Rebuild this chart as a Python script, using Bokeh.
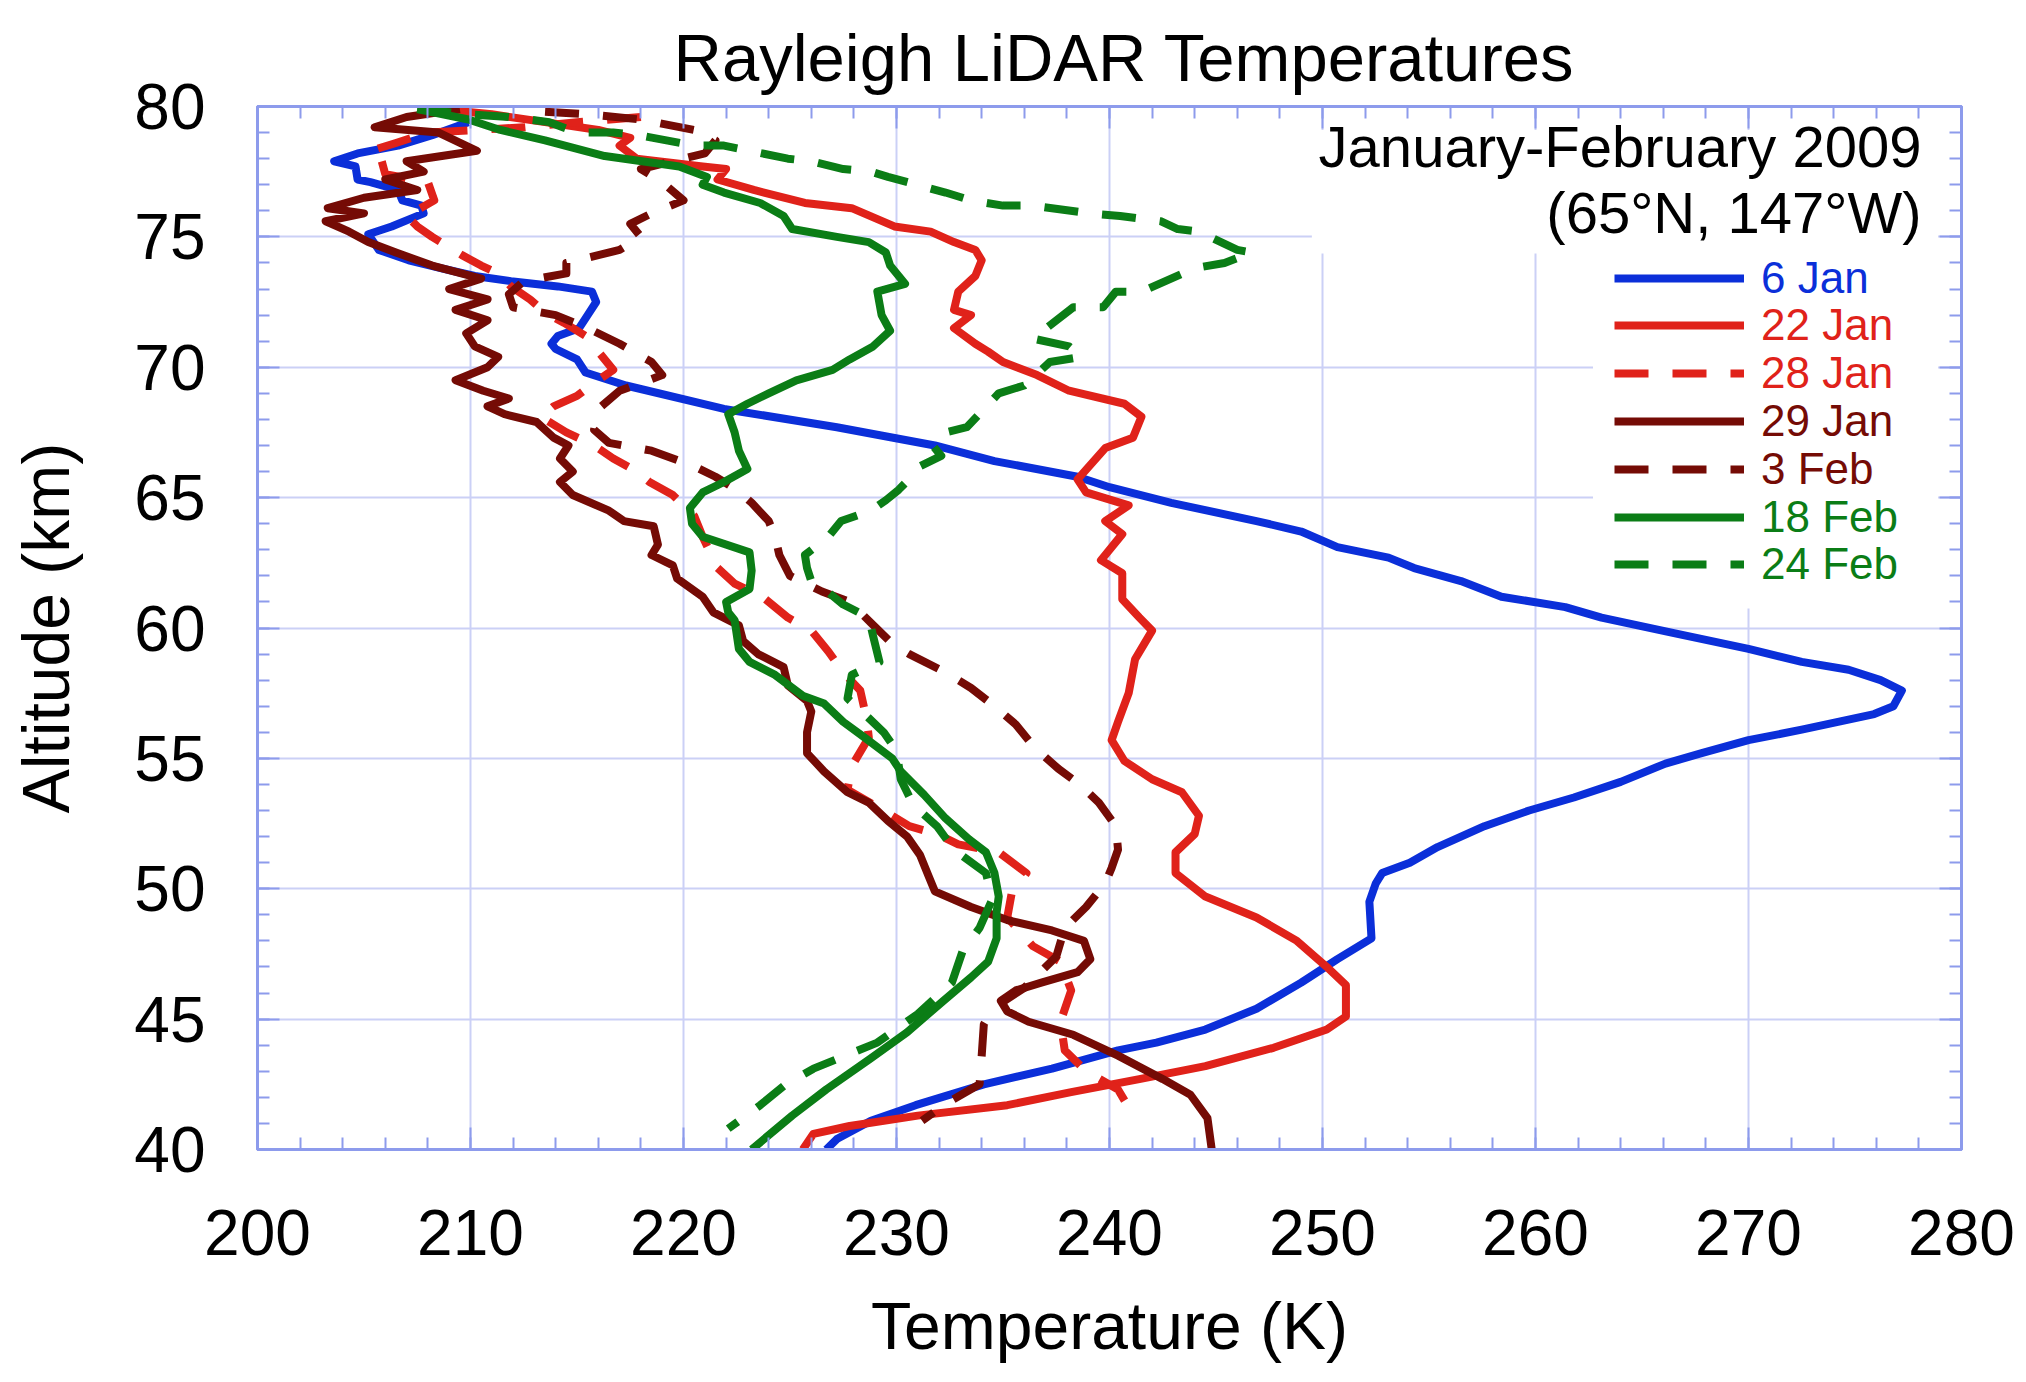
from bokeh.plotting import figure
from bokeh.models import (Range1d, LinearAxis, SingleIntervalTicker, Legend, LegendItem,
                          Label, BoxAnnotation, Grid)
from bokeh.embed import file_html
from bokeh.resources import INLINE

FONT = "Liberation Sans"

# ---------------- data (temperature K, altitude km) ----------------
jan06_alt = [79.4, 78.9, 78.5, 78.2, 77.9, 77.7, 77.2, 77.1, 76.8, 76.4,
             76.2, 75.9, 75.7, 75.4, 75.1, 74.5, 74.1, 73.8, 73.5, 73.3,
             73.1, 72.9, 72.5, 72.0, 71.5, 71.2, 70.9, 70.7, 70.3, 69.8,
             69.3, 68.4, 67.7, 67.0, 66.4, 65.8, 65.4, 64.8, 64.1, 63.7,
             63.1, 62.7, 62.3, 61.8, 61.2, 60.8, 60.4, 59.8, 59.2, 58.7,
             58.4, 58.0, 57.6, 57.0, 56.7, 56.1, 55.7, 55.2, 54.8, 54.1,
             53.5, 53.0, 52.4, 51.6, 51.0, 50.6, 50.2, 49.5, 48.1, 47.3,
             46.4, 45.4, 44.6, 44.1, 43.8, 43.1, 42.5, 41.7, 41.1, 40.4,
             40.0]
jan06_T = [209.9, 208.2, 206.6, 204.7, 203.6, 204.6, 204.7, 205.3, 206.6, 206.8,
           207.7, 207.8, 207.2, 206.3, 205.2, 205.7, 207.1, 208.6, 210.2, 211.9,
           214.1, 215.7, 215.9, 215.5, 215.1, 214.1, 213.8, 214.0, 215.0, 215.4,
           217.3, 221.9, 227.2, 231.8, 234.6, 238.5, 240.0, 242.9, 246.9, 249.0,
           250.7, 253.1, 254.3, 256.5, 258.4, 261.4, 263.1, 266.5, 270.0, 272.5,
           274.7, 276.2, 277.2, 276.8, 275.9, 272.5, 270.0, 267.8, 266.1, 264.0,
           261.8, 259.7, 257.6, 255.4, 254.1, 252.8, 252.5, 252.2, 252.3, 250.7,
           249.0, 246.9, 244.5, 242.2, 240.4, 237.3, 234.1, 230.9, 228.8, 227.2,
           226.7]

jan22_alt = [79.9, 79.7, 79.4, 79.1, 78.8, 78.5, 78.0, 77.7, 77.6, 77.2,
             76.8, 76.3, 76.1, 75.4, 75.2, 74.8, 74.5, 74.1, 73.5, 72.9,
             72.2, 72.0, 71.5, 70.9, 70.6, 70.2, 69.7, 69.1, 68.6, 68.1,
             67.3, 66.9, 65.7, 65.2, 64.7, 64.1, 63.6, 62.6, 62.1, 61.1,
             60.4, 59.9, 58.8, 57.5, 56.4, 55.7, 54.9, 54.2, 53.7, 52.8,
             52.1, 51.4, 50.6, 49.7, 48.9, 48.0, 47.0, 46.3, 45.1, 44.6,
             43.9, 43.2, 42.7, 42.2, 41.7, 41.3, 40.9, 40.6, 40.0]
jan22_T = [208.5, 211.0, 213.5, 216.0, 217.5, 217.0, 217.8, 220.9, 222.0, 221.6,
           223.3, 225.7, 227.9, 229.9, 231.6, 232.7, 233.7, 234.0, 233.7, 232.9,
           232.7, 233.5, 232.7, 233.7, 234.3, 235.0, 236.6, 238.1, 240.7, 241.5,
           241.1, 239.8, 238.5, 238.9, 240.9, 239.8, 240.6, 239.6, 240.6, 240.6,
           241.4, 242.0, 241.2, 240.9, 240.4, 240.1, 240.7, 242.0, 243.4, 244.2,
           244.0, 243.1, 243.1, 244.5, 246.9, 248.8, 250.2, 251.1, 251.1, 250.2,
           247.7, 244.5, 241.4, 238.2, 235.2, 231.0, 227.8, 226.1, 225.6]

jan28_alt = [79.6, 79.4, 79.2, 79.0, 78.6, 78.3, 78.0, 77.4, 77.1, 76.4,
             75.8, 75.4, 75.0, 74.6, 74.3, 73.9, 73.6, 73.1, 72.6, 72.1,
             71.7, 71.2, 70.6, 69.9, 69.4, 68.9, 68.5, 68.1, 67.5, 67.0,
             66.5, 66.0, 65.6, 65.1, 64.3, 63.5, 62.3, 61.7, 61.2, 60.4,
             59.9, 59.1, 58.3, 57.6, 56.5, 55.8, 54.7, 53.8, 53.0, 52.4,
             52.1, 51.7, 51.4, 50.6, 49.8, 48.9, 47.8, 47.2, 46.1, 44.9,
             43.8, 43.0, 42.3, 41.2]
jan28_T = [218.0, 215.0, 212.5, 208.0, 206.5, 205.3, 205.8, 206.0, 208.0, 208.3,
           207.0, 207.5, 208.2, 209.0, 209.6, 210.5, 211.3, 211.9, 212.8, 213.5,
           214.4, 215.4, 216.0, 216.7, 215.8, 215.0, 213.9, 213.3, 214.5, 215.8,
           216.7, 217.8, 218.4, 219.5, 220.5, 220.9, 221.6, 222.4, 223.7, 224.9,
           226.0, 226.8, 227.5, 228.3, 228.6, 228.7, 227.9, 227.7, 229.4, 230.6,
           231.9, 232.9, 234.8, 236.1, 235.4, 235.2, 236.4, 237.7, 238.2, 237.7,
           237.9, 238.9, 240.4, 241.2]

jan29_alt = [79.9, 79.6, 79.2, 79.0, 78.3, 77.9, 77.5, 77.2, 76.8, 76.5,
             76.1, 75.9, 75.6, 75.2, 74.8, 74.4, 73.9, 73.4, 73.0, 72.6,
             72.2, 71.8, 71.3, 70.8, 70.4, 70.0, 69.5, 69.1, 68.8, 68.5,
             68.2, 67.9, 67.3, 67.0, 66.5, 66.0, 65.6, 65.1, 64.5, 64.1,
             63.9, 63.2, 62.8, 62.4, 61.9, 61.2, 60.6, 60.1, 59.5, 59.0,
             58.5, 57.8, 57.2, 56.8, 56.0, 55.2, 54.5, 53.7, 53.3, 52.6,
             52.0, 51.3, 50.5, 49.9, 49.3, 48.8, 48.4, 48.0, 47.3, 46.8,
             46.4, 46.1, 45.7, 45.3, 44.9, 44.4, 43.6, 42.7, 42.1, 41.2,
             40.0]
jan29_T = [209.5, 207.0, 205.5, 208.5, 210.3, 207.0, 207.8, 206.0, 207.5, 205.0,
           203.3, 205.0, 203.2, 204.3, 205.2, 206.5, 208.2, 210.5, 209.0, 210.8,
           209.3, 210.8, 209.8, 210.2, 211.3, 210.8, 209.3, 210.6, 211.8, 210.8,
           211.6, 213.1, 213.9, 214.6, 214.2, 214.8, 214.2, 214.8, 216.5, 217.2,
           218.6, 218.8, 218.5, 219.5, 219.7, 220.9, 221.4, 222.6, 222.8, 223.5,
           224.7, 224.9, 225.8, 226.0, 225.8, 225.8, 226.6, 227.7, 228.7, 229.6,
           230.5, 231.1, 231.5, 231.8, 233.5, 235.2, 237.3, 238.8, 239.1, 238.5,
           236.8, 235.6, 234.9, 235.2, 236.2, 238.3, 240.4, 242.5, 243.8, 244.6,
           244.8]

feb03_alt = [79.8, 79.7, 79.5, 79.1, 78.7, 78.2, 77.9, 77.6, 77.1, 76.4,
             75.9, 75.5, 75.0, 74.5, 74.3, 74.0, 73.6, 73.3, 72.8, 72.3,
             72.0, 71.5, 70.9, 70.2, 69.7, 69.1, 68.4, 67.6, 67.1, 66.8,
             66.2, 65.8, 65.3, 64.8, 64.1, 63.5, 62.8, 62.0, 61.4, 61.0,
             60.2, 59.4, 59.0, 58.3, 57.7, 57.0, 56.3, 55.4, 54.6, 54.0,
             53.3, 52.4, 51.5, 50.8, 50.2, 49.3, 48.5, 47.4, 46.2, 45.4,
             44.8, 43.6, 42.5, 41.8, 41.1]
feb03_T = [213.5, 215.5, 218.0, 220.5, 221.5, 221.0, 219.5, 218.0, 219.0, 220.0,
           218.5, 217.5, 218.0, 217.0, 216.0, 214.5, 214.5, 212.5, 211.8, 212.0,
           214.0, 215.5, 217.0, 218.5, 219.0, 217.0, 216.0, 215.8, 216.5, 218.5,
           220.5, 221.5, 222.5, 223.2, 224.0, 224.3, 224.5, 225.0, 226.5, 227.8,
           228.8, 229.8, 230.6, 232.3, 233.5, 234.6, 235.6, 236.5, 237.6, 238.6,
           239.5, 240.3, 240.4, 240.1, 239.8, 238.9, 237.9, 237.5, 236.0, 234.5,
           234.1, 234.0, 233.9, 232.4, 231.2]

feb18_alt = [79.9, 79.5, 79.1, 78.7, 78.1, 77.7, 77.3, 77.0, 76.7, 76.3,
             75.8, 75.3, 75.0, 74.8, 74.4, 73.9, 73.2, 72.9, 72.0, 71.4,
             70.8, 70.3, 69.9, 69.5, 69.0, 68.6, 68.2, 67.5, 66.8, 66.1,
             65.6, 65.2, 64.6, 64.0, 63.5, 62.9, 62.2, 61.5, 61.0, 60.6,
             60.3, 59.2, 58.7, 58.2, 57.4, 57.1, 56.4, 55.8, 55.0, 54.5,
             53.6, 52.7, 51.9, 51.4, 50.6, 49.7, 49.1, 48.1, 47.2, 46.6,
             45.7, 44.5, 43.5, 42.3, 41.3, 40.0]
feb18_T = [207.5, 209.9, 211.4, 213.5, 216.3, 219.8, 221.1, 220.9, 221.9, 223.6,
           224.7, 225.1, 227.2, 228.7, 229.5, 229.7, 230.4, 229.1, 229.3, 229.7,
           228.9, 227.8, 227.0, 225.3, 224.0, 223.0, 222.1, 222.4, 222.6, 223.0,
           221.9, 220.9, 220.3, 220.4, 220.9, 223.1, 223.2, 223.1, 222.0, 222.1,
           222.4, 222.6, 223.1, 224.3, 225.6, 226.6, 227.5, 228.5, 229.8, 230.2,
           231.3, 232.3, 233.4, 234.2, 234.6, 234.8, 234.7, 234.7, 234.3, 233.5,
           232.2, 230.5, 228.8, 226.7, 225.1, 223.2]

feb24_alt = [79.9, 79.7, 79.6, 79.4, 79.0, 79.0, 78.9, 78.5, 78.5, 78.0,
             77.9, 77.6, 77.5, 77.3, 76.7, 76.4, 76.2, 76.2, 75.9, 75.8,
             75.7, 75.6, 75.3, 75.2, 74.5, 74.4, 74.0, 73.8, 72.9, 72.9,
             72.3, 72.3, 71.1, 70.8, 70.4, 70.2, 69.3, 69.0, 67.7, 67.5,
             67.0, 66.6, 66.2, 65.8, 65.3, 64.9, 64.5, 64.1, 63.5, 62.8,
             62.3, 61.8, 61.5, 60.9, 60.4, 59.7, 58.7, 58.2, 57.3, 56.7,
             56.0, 55.3, 54.2, 53.2, 52.4, 51.5, 50.6, 49.6, 48.5, 47.6,
             46.4, 45.2, 44.1, 43.6, 43.1, 42.5, 41.7, 40.8]
feb24_T = [207.5, 209.9, 211.8, 213.7, 215.0, 216.7, 217.9, 220.5, 221.9, 224.9,
           226.0, 227.5, 228.8, 229.6, 232.3, 233.5, 235.0, 236.4, 239.1, 240.5,
           241.5, 242.4, 243.2, 244.2, 246.0, 246.7, 245.4, 244.0, 241.5, 240.3,
           239.7, 238.3, 236.4, 238.1, 238.7, 237.2, 236.0, 234.8, 233.3, 232.3,
           231.7, 232.1, 231.1, 230.7, 230.1, 229.5, 228.8, 227.4, 226.8, 225.7,
           225.8, 226.0, 226.6, 227.5, 228.7, 228.9, 229.2, 227.9, 227.7, 228.5,
           229.4, 230.0, 230.2, 230.8, 231.9, 232.7, 234.2, 234.5, 233.9, 233.1,
           232.6, 231.0, 229.1, 227.6, 226.1, 224.8, 223.6, 222.1]

series_labels = ["6 Jan", "22 Jan", "28 Jan", "29 Jan", "3 Feb", "18 Feb", "24 Feb"]
x_ticks_step = 10
y_ticks_step = 5

# ---------------- styling ----------------
BLUE = "#0b2fd9"
RED = "#e0221a"
MAROON = "#750b05"
GREEN = "#0b7d16"
GRID = "#cbd0f6"
AXC = "#8d9bec"
DASH = "34 24"

series = [
    (jan06_T, jan06_alt, BLUE, "solid"),
    (jan22_T, jan22_alt, RED, "solid"),
    (jan28_T, jan28_alt, RED, DASH),
    (jan29_T, jan29_alt, MAROON, "solid"),
    (feb03_T, feb03_alt, MAROON, DASH),
    (feb18_T, feb18_alt, GREEN, "solid"),
    (feb24_T, feb24_alt, GREEN, DASH),
]

FL, FT = 257, 106           # frame left / top on page
FW, FH = 1704, 1043          # frame size
FB = FT + FH                 # frame bottom on page
TXT_SHIFT = 21               # Label baseline correction (px)

p = figure(frame_width=FW, frame_height=FH,
           x_range=Range1d(200, 280), y_range=Range1d(40, 80),
           x_axis_type=None, y_axis_type=None,
           output_backend="svg", toolbar_location=None,
           min_border_left=FL, min_border_top=FT,
           min_border_right=2026 - FL - FW - 2,
           min_border_bottom=1382 - FT - FH - 2)
p.background_fill_color = "white"
p.border_fill_color = "white"
p.outline_line_color = AXC
p.outline_line_width = 3

p.title.text = "Rayleigh LiDAR Temperatures"
p.title.text_font = FONT
p.title.text_font_size = "67px"
p.title.text_font_style = "normal"
p.title.text_color = "black"
p.title.align = "left"
p.title.offset = 416
p.title.vertical_align = "top"
p.title.standoff = 19


def make_axis(place, ticker, labels, label_text=None):
    ax = LinearAxis(ticker=ticker)
    ax.axis_line_color = AXC
    ax.axis_line_width = 3
    ax.major_tick_line_color = AXC
    ax.major_tick_line_width = 2
    ax.minor_tick_line_color = AXC
    ax.minor_tick_line_width = 2
    ax.major_tick_in = 22
    ax.major_tick_out = 0
    ax.minor_tick_in = 12
    ax.minor_tick_out = 0
    if labels:
        ax.major_label_text_font = FONT
        ax.major_label_text_font_size = "64px"
        ax.major_label_text_color = "black"
        ax.axis_label = label_text
        ax.axis_label_text_font = FONT
        ax.axis_label_text_font_size = "66px"
        ax.axis_label_text_font_style = "normal"
        ax.axis_label_text_color = "black"
    else:
        ax.major_label_text_color = None
        ax.major_label_text_font_size = "0px"
        ax.major_label_standoff = 0
    p.add_layout(ax, place)
    return ax


xt = lambda: SingleIntervalTicker(interval=x_ticks_step, num_minor_ticks=5)
yt = lambda: SingleIntervalTicker(interval=y_ticks_step, num_minor_ticks=5)

xb = make_axis("below", xt(), True, "Temperature (K)")
xb.major_label_standoff = 60
xb.axis_label_standoff = 31
yl = make_axis("left", yt(), True, "Altitude (km)")
yl.major_label_standoff = 52
yl.axis_label_standoff = 48
xa = make_axis("above", xt(), False)
xa.major_label_text_font_size = "1px"   # invisible labels, used as a spacer
xa.major_label_standoff = 9
make_axis("right", yt(), False)

p.add_layout(Grid(dimension=0, ticker=SingleIntervalTicker(interval=x_ticks_step),
                  grid_line_color=GRID, grid_line_width=2))
p.add_layout(Grid(dimension=1, ticker=SingleIntervalTicker(interval=y_ticks_step),
                  grid_line_color=GRID, grid_line_width=2))

renderers = []
for T, alt, col, dash in series:
    r = p.line(T, alt, line_color=col, line_width=8, line_dash=dash,
               line_join="round")
    renderers.append(r)

# white boxes behind the annotation text and the legend
p.add_layout(BoxAnnotation(left=249.5, right=278.9, bottom=74.36, top=79.1,
                           fill_color="white", fill_alpha=1.0, line_alpha=0))
p.add_layout(BoxAnnotation(left=262.7, right=278.9, bottom=60.75, top=74.4,
                           fill_color="white", fill_alpha=1.0, line_alpha=0))

# annotation
for txt, base in [("January-February 2009", 167), ("(65°N, 147°W)", 233)]:
    p.add_layout(Label(x=1921 - FL, y=FB - base + TXT_SHIFT,
                       x_units="screen", y_units="screen",
                       text=txt, text_align="right", text_baseline="alphabetic",
                       text_font=FONT, text_font_size="58px", text_color="black"))

# legends: one per entry so that every label takes its line colour
ITEM_H = 50
for i, (r, lab) in enumerate(zip(renderers, series_labels)):
    centre = 277.5 + 47.8 * i
    lg = Legend(items=[LegendItem(label=lab, renderers=[r])],
                location=(1614 - FL, FB - centre - ITEM_H / 2),
                orientation="vertical", glyph_width=130, glyph_height=ITEM_H,
                label_height=ITEM_H, label_standoff=17, padding=0, margin=0,
                spacing=0, border_line_alpha=0, background_fill_alpha=0,
                label_text_font=FONT, label_text_font_size="44px",
                label_text_color=series[i][2])
    p.add_layout(lg)

open("out.html", "w").write(file_html(p, INLINE))
